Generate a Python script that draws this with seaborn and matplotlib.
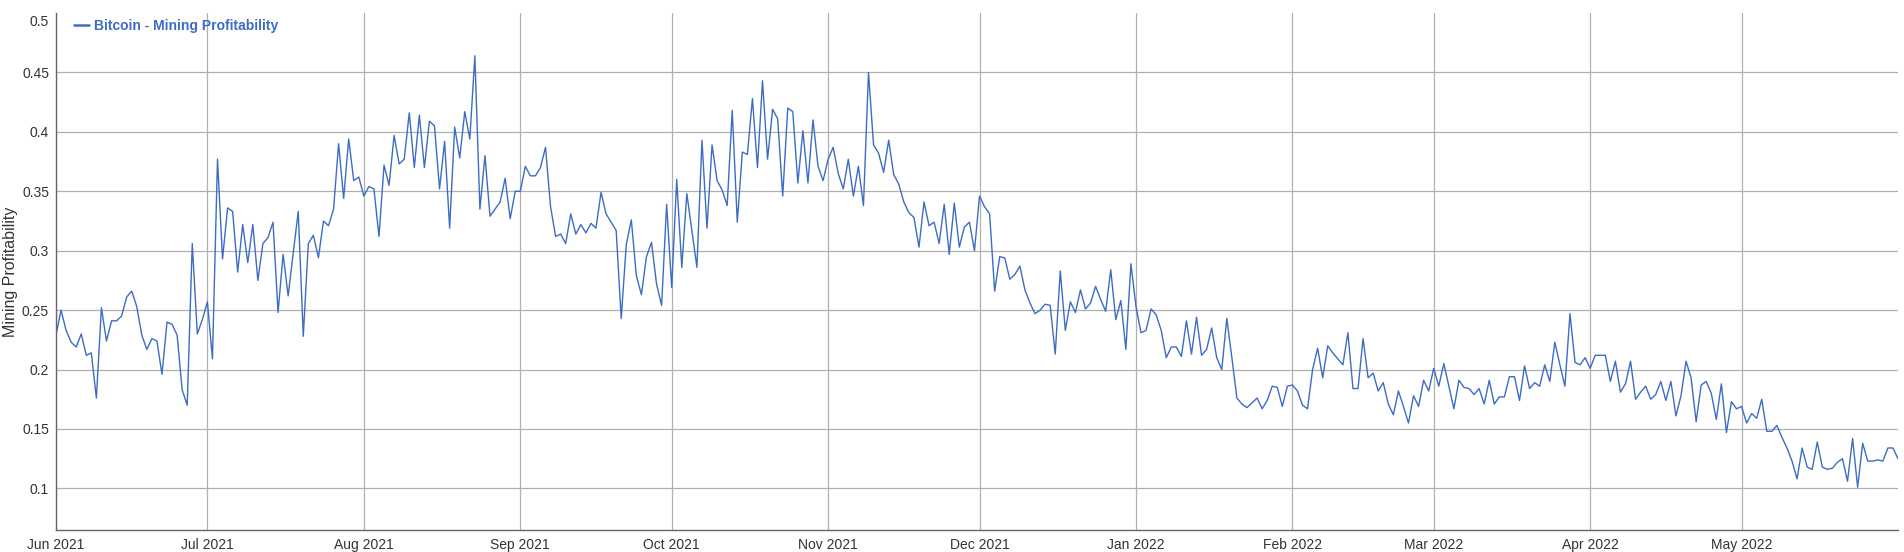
import numpy as np
import pandas as pd
import matplotlib
matplotlib.use("Agg")
import matplotlib.pyplot as plt
import matplotlib.dates as mdates
import matplotlib.transforms as mtransforms
from matplotlib.ticker import FuncFormatter
import seaborn as sns

sns.set_style("white")
plt.rcParams["font.family"] = ["Liberation Sans", "DejaVu Sans"]

# --- Data: daily Bitcoin mining profitability ---
start_date = "2021-06-01"
profit_jun = [0.229, 0.250, 0.233, 0.223, 0.219, 0.230, 0.212, 0.214, 0.176, 0.252,
              0.224, 0.241, 0.241, 0.245, 0.261, 0.266, 0.253, 0.229, 0.217, 0.226,
              0.224, 0.196, 0.240, 0.238, 0.229, 0.183, 0.170, 0.306, 0.230, 0.242]
profit_jul = [0.257, 0.209, 0.377, 0.293, 0.336, 0.333, 0.282, 0.322, 0.290, 0.322,
              0.275, 0.306, 0.311, 0.324, 0.248, 0.297, 0.262, 0.298, 0.333, 0.228,
              0.306, 0.313, 0.294, 0.325, 0.321, 0.335, 0.390, 0.344, 0.394, 0.359,
              0.362]
profit_aug = [0.346, 0.354, 0.352, 0.312, 0.372, 0.355, 0.397, 0.373, 0.377, 0.416,
              0.370, 0.414, 0.370, 0.409, 0.405, 0.352, 0.392, 0.319, 0.404, 0.378,
              0.417, 0.394, 0.464, 0.335, 0.380, 0.329, 0.335, 0.341, 0.361, 0.327,
              0.350]
profit_sep = [0.350, 0.371, 0.363, 0.363, 0.370, 0.387, 0.337, 0.312, 0.314, 0.306,
              0.331, 0.314, 0.322, 0.315, 0.323, 0.319, 0.349, 0.331, 0.324, 0.317,
              0.243, 0.305, 0.326, 0.279, 0.263, 0.295, 0.307, 0.272, 0.254, 0.339]
profit_oct = [0.269, 0.360, 0.286, 0.348, 0.317, 0.286, 0.393, 0.319, 0.389, 0.359,
              0.351, 0.338, 0.418, 0.324, 0.383, 0.381, 0.428, 0.370, 0.443, 0.377,
              0.419, 0.411, 0.346, 0.420, 0.417, 0.357, 0.401, 0.357, 0.410, 0.371,
              0.359]
profit_nov = [0.377, 0.387, 0.365, 0.352, 0.377, 0.346, 0.371, 0.338, 0.450, 0.389,
              0.382, 0.366, 0.393, 0.364, 0.356, 0.341, 0.332, 0.328, 0.303, 0.341,
              0.321, 0.324, 0.306, 0.339, 0.297, 0.340, 0.303, 0.320, 0.324, 0.300]
profit_dec = [0.346, 0.337, 0.331, 0.266, 0.295, 0.294, 0.276, 0.280, 0.287, 0.267,
              0.256, 0.247, 0.250, 0.255, 0.254, 0.213, 0.283, 0.233, 0.257, 0.248,
              0.267, 0.251, 0.256, 0.270, 0.259, 0.249, 0.284, 0.242, 0.258, 0.217,
              0.289]
profit_jan = [0.253, 0.231, 0.233, 0.251, 0.246, 0.233, 0.210, 0.219, 0.219, 0.211,
              0.241, 0.213, 0.244, 0.212, 0.217, 0.235, 0.210, 0.200, 0.243, 0.210,
              0.176, 0.171, 0.168, 0.172, 0.176, 0.167, 0.174, 0.186, 0.185, 0.169,
              0.186]
profit_feb = [0.187, 0.182, 0.170, 0.167, 0.200, 0.218, 0.193, 0.220, 0.214, 0.209,
              0.204, 0.231, 0.184, 0.184, 0.226, 0.193, 0.197, 0.182, 0.189, 0.171,
              0.162, 0.182, 0.169, 0.155, 0.178, 0.169, 0.191, 0.182]
profit_mar = [0.201, 0.186, 0.205, 0.186, 0.167, 0.191, 0.185, 0.184, 0.179, 0.184,
              0.171, 0.191, 0.171, 0.177, 0.177, 0.194, 0.194, 0.174, 0.203, 0.184,
              0.189, 0.186, 0.204, 0.190, 0.223, 0.204, 0.186, 0.247, 0.206, 0.204,
              0.210]
profit_apr = [0.201, 0.212, 0.212, 0.212, 0.190, 0.207, 0.181, 0.188, 0.207, 0.175,
              0.181, 0.186, 0.175, 0.179, 0.190, 0.174, 0.190, 0.161, 0.178, 0.207,
              0.193, 0.156, 0.187, 0.190, 0.180, 0.158, 0.188, 0.147, 0.173, 0.167]
profit_may = [0.169, 0.155, 0.163, 0.159, 0.175, 0.148, 0.148, 0.153, 0.143, 0.134,
              0.123, 0.108, 0.134, 0.118, 0.116, 0.139, 0.118, 0.116, 0.117, 0.122,
              0.125, 0.106, 0.142, 0.101, 0.138, 0.123, 0.123, 0.124, 0.123, 0.134,
              0.134]
profit_jun22 = [0.125]

profit = (profit_jun + profit_jul + profit_aug + profit_sep + profit_oct + profit_nov
          + profit_dec + profit_jan + profit_feb + profit_mar + profit_apr + profit_may
          + profit_jun22)
dates = pd.date_range(start_date, periods=len(profit), freq="D")
df = pd.DataFrame({"Date": dates, "Mining Profitability": profit})

series_name = "Bitcoin - Mining Profitability"
line_color = "#3d6cc4"
y_ticks = [0.1, 0.15, 0.2, 0.25, 0.3, 0.35, 0.4, 0.45, 0.5]
month_ticks = pd.date_range("2021-06-01", "2022-05-01", freq="MS")

# --- Plot ---
fig = plt.figure(figsize=(19.04, 5.52), dpi=100)
ax = fig.add_axes([56 / 1904, 22 / 552, 1842 / 1904, 517 / 552])

sns.lineplot(data=df, x="Date", y="Mining Profitability", ax=ax,
             color=line_color, linewidth=1.0, label=series_name)

ax.set_xlim(dates[0], dates[-1])
ax.set_ylim(0.065, 0.5)
ax.set_yticks(y_ticks)
ax.yaxis.set_major_formatter(FuncFormatter(lambda v, p: f"{v:g}"))
ax.set_xticks(month_ticks)
ax.xaxis.set_major_formatter(mdates.DateFormatter("%b %Y"))

ax.grid(True, color="#b0b0b0", linewidth=0.9)
ax.set_axisbelow(True)
# no gridline on the top edge
ax.get_ygridlines()[-1].set_visible(False)
for side in ["top", "right"]:
    ax.spines[side].set_visible(False)
for side in ["left", "bottom"]:
    ax.spines[side].set_color("#666666")
    ax.spines[side].set_linewidth(1.0)
ax.tick_params(axis="both", length=0, labelsize=10, colors="#333333")
ax.tick_params(axis="x", pad=6)
ax.tick_params(axis="y", pad=5)

# the top label sits a little below the edge
top_lbl = ax.get_yticklabels()[-1]
top_lbl.set_transform(top_lbl.get_transform()
                      + mtransforms.ScaledTranslation(0, -8 / 100, fig.dpi_scale_trans))

ax.set_xlabel("")
ax.set_ylabel("Mining Profitability", fontsize=11.5, color="#333333", labelpad=3)

leg = ax.legend(loc="upper left", bbox_to_anchor=(0.003, 1.012), frameon=False,
                handlelength=1.1, handletextpad=0.35, labelcolor="linecolor",
                prop={"weight": "bold", "size": 10})
for h in leg.get_lines():
    h.set_linewidth(1.8)

fig.savefig("out.png", dpi=100)
